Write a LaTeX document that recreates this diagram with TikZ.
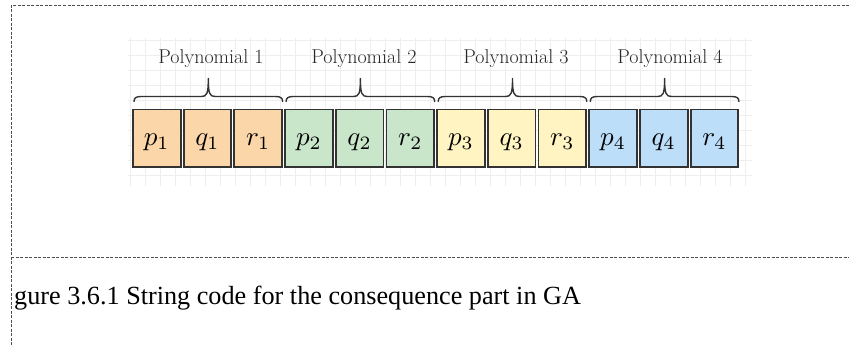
\documentclass[tikz,border=0pt]{standalone}
\usepackage{graphicx}
\usepackage{fontspec}
\newfontfamily\capfont{Liberation Serif}
\usetikzlibrary{calc}
\definecolor{corange}{RGB}{251,214,168}
\definecolor{cgreen}{RGB}{201,230,203}
\definecolor{cyellow}{RGB}{255,244,194}
\definecolor{cblue}{RGB}{189,222,249}
\definecolor{cstroke}{RGB}{51,51,51}
\definecolor{cgrid}{RGB}{238,238,238}
\definecolor{cdash}{RGB}{80,80,80}
\newcommand\bigmath[1]{\scalebox{2.7}{$#1$}}
\begin{document}
\begin{tikzpicture}[x=1pt,y=-1pt,
  framedash/.style={draw=cdash, line width=1pt, dash pattern=on 3pt off 1.5pt},
  gridline/.style={draw=cgrid, line width=0.7pt},
  cell/.style={draw=cstroke, line width=1.8pt, minimum width=47.7pt, minimum height=57.4pt,
    inner sep=0pt, text height=20pt, text depth=6pt, text=black},
  bracestyle/.style={draw=cstroke, line width=1.4pt, line cap=round, line join=round},
  polylabel/.style={anchor=base, inner sep=0pt, text=black!85, font=\fontsize{20}{24}\selectfont},
  captext/.style={anchor=base west, inner sep=0pt, text=black, font=\capfont\fontsize{26.2}{30}\selectfont}]
\useasboundingbox (0,0) rectangle (849,346);
% background grid
\foreach \gx in {0,...,41} \draw[gridline] (130+15*\gx,38) -- (130+15*\gx,186);
\foreach \gy in {0,...,9} \draw[gridline] (128,40+15*\gy) -- (752,40+15*\gy);
% frame lines
\draw[framedash] (849,5.5) -- (11,5.5) -- (11,346);
\draw[framedash] (11,257.5) -- (849,257.5);
% cells
\foreach \i/\nm/\col [count=\k] in {1/p/corange,1/q/corange,1/r/corange,
    2/p/cgreen,2/q/cgreen,2/r/cgreen,
    3/p/cyellow,3/q/cyellow,3/r/cyellow,
    4/p/cblue,4/q/cblue,4/r/cblue} {
  \pgfmathsetmacro\cx{156.75+50.7*(\k-1)}
  \node[cell, fill=\col] (b\k) at (\cx,138.1) {\bigmath{\nm_{\i}}};
}
% braces
\foreach \g in {1,...,4} {
  \pgfmathsetmacro\xa{134+152.1*(\g-1)}
  \pgfmathsetmacro\xb{282.6+152.1*(\g-1)}
  \pgfmathsetmacro\xm{(\xa+\xb)/2}
  \draw[bracestyle] (\xa,101.5) .. controls (\xa,98) and (\xa+2,96.5) .. (\xa+7,96.5)
     -- (\xm-7,96.5) .. controls (\xm-1.5,96.5) and (\xm,94) .. (\xm,78.5)
     .. controls (\xm,94) and (\xm+1.5,96.5) .. (\xm+7,96.5)
     -- (\xb-7,96.5) .. controls (\xb-2,96.5) and (\xb,98) .. (\xb,101.5);
}
% labels
\node[polylabel] (l1) at (211,63.3) {Polynomial 1};
\node[polylabel] (l2) at (364,63.3) {Polynomial 2};
\node[polylabel] (l3) at (516,63.3) {Polynomial 3};
\node[polylabel] (l4) at (670,63.3) {Polynomial 4};
% caption
\node[captext] (cap) at (14,304) {gure 3.6.1 String code for the consequence part in GA};
\end{tikzpicture}
\end{document}
